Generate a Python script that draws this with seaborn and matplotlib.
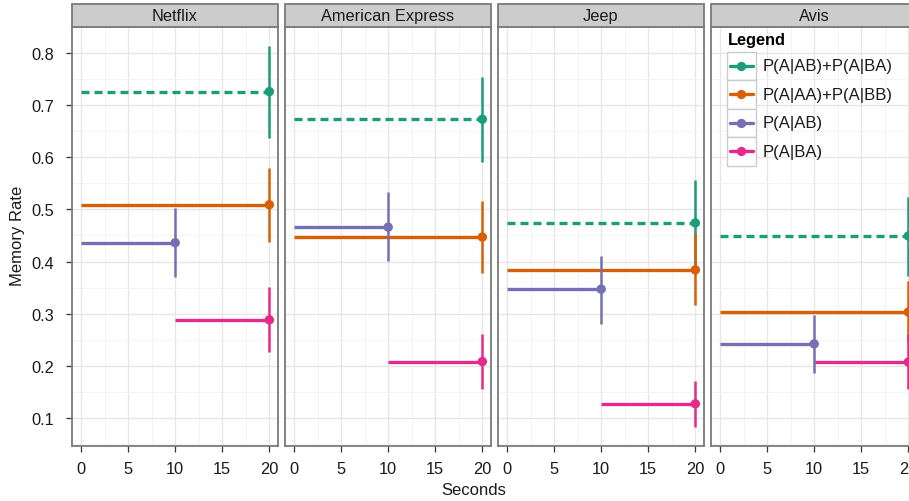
import pandas as pd
import matplotlib
matplotlib.use("Agg")
import matplotlib.pyplot as plt
from matplotlib.patches import Rectangle
from matplotlib.lines import Line2D
from matplotlib.ticker import MultipleLocator
import seaborn as sns

# values
brands = ["Netflix", "American Express", "Jeep", "Avis"]
series = ["P(A|AB)+P(A|BA)", "P(A|AA)+P(A|BB)", "P(A|AB)", "P(A|BA)"]
start_sec = [0, 0, 0, 10]
end_sec = [20, 20, 10, 20]
# one row per brand, columns follow `series`
rate = [[0.726, 0.509, 0.436, 0.288],
        [0.673, 0.447, 0.466, 0.208],
        [0.474, 0.384, 0.347, 0.127],
        [0.449, 0.303, 0.242, 0.207]]
rate_low = [[0.637, 0.438, 0.370, 0.226],
            [0.591, 0.378, 0.401, 0.156],
            [0.392, 0.317, 0.280, 0.083],
            [0.372, 0.245, 0.186, 0.156]]
rate_high = [[0.813, 0.579, 0.503, 0.351],
             [0.754, 0.516, 0.533, 0.261],
             [0.556, 0.453, 0.411, 0.171],
             [0.524, 0.363, 0.298, 0.260]]

palette = dict(zip(series, ["#1B9E77", "#D95F02", "#7570B3", "#E7298A"]))
dashed = {series[0]}

rows = []
for b, brand in enumerate(brands):
    for s, name in enumerate(series):
        rows.append({"brand": brand, "series": name,
                     "start": start_sec[s], "end": end_sec[s],
                     "rate": rate[b][s], "low": rate_low[b][s],
                     "high": rate_high[b][s]})
df = pd.DataFrame(rows)

W, H = 909, 502
sns.set_style("white")
plt.rcParams["font.family"] = ["Liberation Sans", "DejaVu Sans"]
FS = 11.8
BORDER = "#7A7A7A"


def px(x, y):
    """pixel position in the picture -> figure fraction"""
    return x / W, 1 - y / H


def draw_panel(data, **kws):
    ax = plt.gca()
    # segments first, then error bars, then points (like ggplot layers)
    for _, r in data.iterrows():
        ls = (0, (2.4, 1.5)) if r["series"] in dashed else "-"
        ax.plot([r["start"], r["end"]], [r["rate"], r["rate"]],
                color=palette[r["series"]], lw=2.4, ls=ls,
                solid_capstyle="butt", zorder=3)
    for _, r in data.iterrows():
        ax.plot([r["end"], r["end"]], [r["low"], r["high"]],
                color=palette[r["series"]], lw=1.8,
                solid_capstyle="butt", zorder=4)
    sns.scatterplot(data=data, x="end", y="rate", hue="series",
                    palette=palette, s=46, linewidth=0, legend=False,
                    ax=ax, zorder=5)


g = sns.FacetGrid(df, col="brand", col_order=brands, sharex=True, sharey=True,
                  height=5, aspect=0.5, despine=False)
g.map_dataframe(draw_panel)
fig = g.figure
fig.set_size_inches(W / 100, H / 100)
g.set_axis_labels("", "")
g.set_titles("")

for i, (ax, brand) in enumerate(zip(g.axes.flat, brands)):
    left = 72 + i * 213
    ax.set_position([left / W, 55 / H, 206 / W, 419 / H])
    ax.set_xlim(-0.96, 20.92)
    ax.set_ylim(0.046, 0.85)
    ax.set_xticks([0, 5, 10, 15, 20])
    ax.set_yticks([0.1, 0.2, 0.3, 0.4, 0.5, 0.6, 0.7, 0.8])
    ax.xaxis.set_minor_locator(MultipleLocator(2.5))
    ax.yaxis.set_minor_locator(MultipleLocator(0.05))
    ax.set_axisbelow(True)
    ax.grid(which="major", color="#E6E6E6", lw=1.0)
    ax.grid(which="minor", color="#F2F2F2", lw=0.6)
    ax.tick_params(which="minor", length=0)
    ax.tick_params(which="major", direction="out", length=4.2, width=0.9,
                   color="#333333", labelsize=FS, labelcolor="#1a1a1a")
    ax.tick_params(axis="x", bottom=True, labelbottom=True, pad=6.5)
    if i > 0:
        ax.tick_params(axis="y", left=False, labelleft=False)
    else:
        ax.tick_params(axis="y", left=True, pad=8.5)
        ax.set_yticklabels([f"{v:.1f}" for v in ax.get_yticks()])
    ax.set_xlabel("")
    ax.set_ylabel("")
    for sp in ax.spines.values():
        sp.set_color(BORDER)
        sp.set_linewidth(1.3)
    # facet strip
    strip_h = 23 / 419
    ax.add_patch(Rectangle((0, 1), 1, strip_h, transform=ax.transAxes,
                           facecolor="#CCCCCC", edgecolor=BORDER, lw=1.3,
                           clip_on=False, zorder=6))
    ax.text(0.5, 1 + strip_h / 2, brand, transform=ax.transAxes,
            ha="center", va="center", fontsize=FS, color="#1a1a1a", zorder=7)

fig.text(*px(474, 491), "Seconds", ha="center", va="center", fontsize=12,
         color="#1a1a1a")
fig.text(*px(18, 236), "Memory Rate", ha="center", va="center", fontsize=12,
         rotation=90, color="#1a1a1a")

# legend drawn like ggplot keys inside the last panel
fig.text(*px(728, 41), "Legend", ha="left", va="center", fontsize=FS,
         fontweight="bold", color="#000000")
key_top = 52.7
key_h = 28.5
for k, name in enumerate(series):
    y0 = key_top + k * key_h
    x0, y1 = px(727, y0 + key_h)
    fig.patches.append(Rectangle((x0, y1), 28.5 / W, key_h / H,
                                 transform=fig.transFigure, facecolor="white",
                                 edgecolor="#CCCCCC", lw=1.0, zorder=8))
    yc = y0 + key_h / 2
    xa, ya = px(730, yc)
    xb, _ = px(752.5, yc)
    xm, _ = px(741.3, yc)
    fig.lines.append(Line2D([xa, xb], [ya, ya], transform=fig.transFigure,
                            color=palette[name], lw=2.4, zorder=9))
    fig.lines.append(Line2D([xm], [ya], transform=fig.transFigure,
                            marker="o", ms=6.7, mew=0, color=palette[name],
                            zorder=10))
    fig.text(*px(763, yc), name, ha="left", va="center", fontsize=12,
             color="#1a1a1a", zorder=10)

fig.savefig("out.png", dpi=100)
